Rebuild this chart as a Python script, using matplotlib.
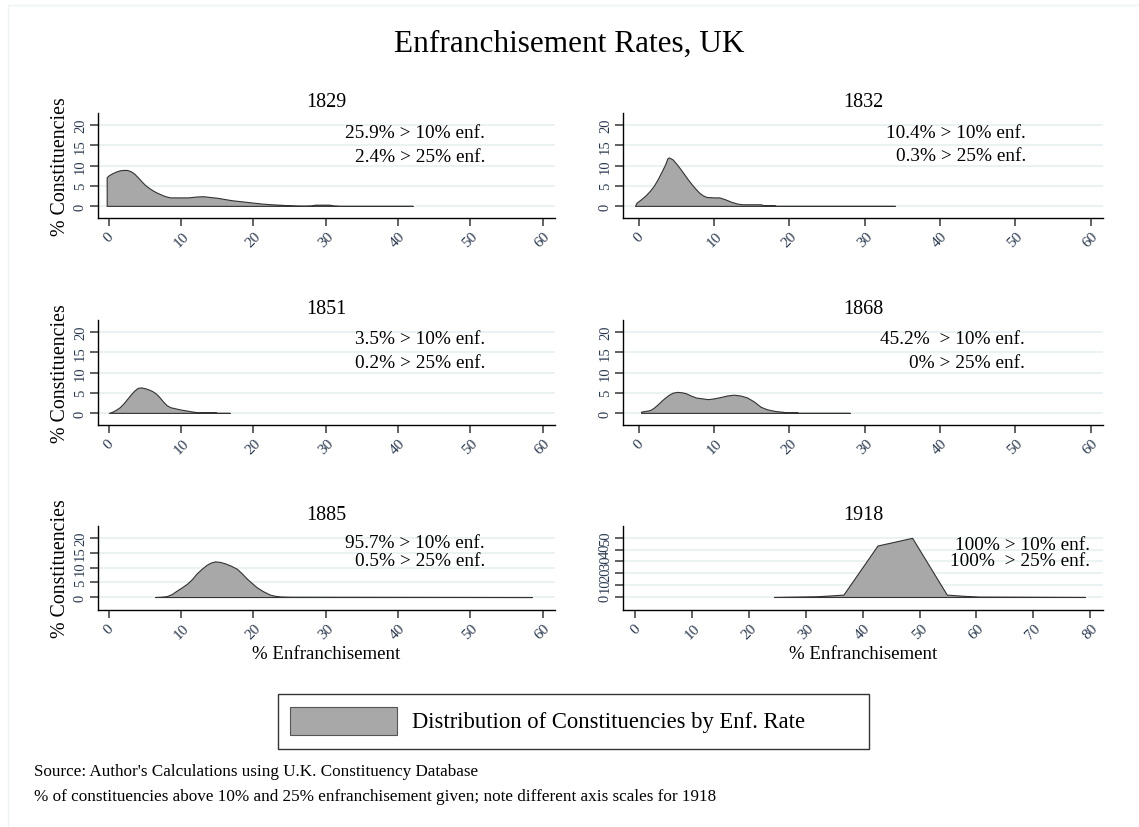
import numpy as np
import matplotlib.pyplot as plt
from matplotlib.patches import Rectangle

plt.rcParams['font.family'] = ['Liberation Serif', 'DejaVu Serif']

# density curves (x = % enfranchisement, y = % constituencies)
x_1829 = [-0.3, -0.3, 0.0, 0.5, 1.0, 1.5, 2.0, 2.5, 3.0, 3.5, 4.0, 4.5, 5.0, 5.5, 6.0, 6.5, 7.0, 7.5, 8.0, 8.5,
          9.0, 10.0, 11.0, 12.0, 13.0, 14.0, 15.0, 16.0, 17.0, 18.0, 19.0, 20.0, 21.0, 22.0, 23.0, 24.0, 25.0,
          26.0, 27.0, 28.0, 28.5, 30.5, 31.0, 32.0, 42.0]
y_1829 = [0.0, 7.1, 7.6, 8.1, 8.5, 8.8, 8.9, 8.9, 8.6, 8.0, 7.1, 6.1, 5.2, 4.5, 3.9, 3.4, 3.0, 2.6, 2.3, 2.1,
          2.1, 2.1, 2.1, 2.3, 2.4, 2.2, 2.0, 1.7, 1.4, 1.2, 1.0, 0.8, 0.6, 0.45, 0.35, 0.25, 0.15,
          0.08, 0.05, 0.1, 0.3, 0.3, 0.1, 0.0, 0.0]
x_1832 = [-0.5, -0.3, 0.2, 0.9, 1.5, 2.0, 2.5, 3.0, 3.5, 3.8, 4.0, 4.5, 5.0, 5.5, 6.0, 6.5, 7.0, 7.5, 8.0,
          8.5, 9.0, 10.0, 10.7, 11.5, 12.3, 13.0, 13.7, 16.2, 16.5, 18.0, 18.2, 34.0]
y_1832 = [0.0, 0.8, 1.5, 2.6, 3.8, 5.0, 6.6, 8.4, 10.3, 11.8, 12.0, 11.5, 10.4, 9.2, 7.9, 6.6, 5.4, 4.3, 3.3,
          2.6, 2.2, 2.1, 2.1, 1.6, 1.0, 0.6, 0.4, 0.4, 0.2, 0.2, 0.0, 0.0]
x_1851 = [0.0, 0.5, 1.0, 1.5, 2.0, 2.5, 3.0, 3.5, 4.0, 4.5, 5.0, 5.5, 6.0, 6.5, 7.0, 7.5, 8.0, 8.5, 9.0,
          9.5, 10.0, 10.7, 11.5, 12.1, 14.7, 15.0, 16.7]
y_1851 = [0.0, 0.3, 0.8, 1.4, 2.3, 3.4, 4.5, 5.5, 6.2, 6.3, 6.1, 5.8, 5.4, 4.8, 3.9, 2.8, 1.9, 1.4, 1.2,
          1.0, 0.8, 0.6, 0.35, 0.2, 0.2, 0.0, 0.0]
x_1868 = [0.3, 0.3, 1.5, 2.0, 2.5, 3.0, 3.5, 4.0, 4.5, 5.1, 5.7, 6.2, 6.9, 7.6, 8.4, 9.2, 10.0, 10.8, 11.7,
          12.6, 13.5, 14.4, 15.3, 16.2, 17.0, 18.0, 19.4, 21.0, 21.2, 28.0]
y_1868 = [0.0, 0.3, 0.7, 1.3, 2.1, 3.0, 3.8, 4.5, 5.0, 5.2, 5.1, 4.9, 4.3, 3.8, 3.6, 3.4, 3.6, 3.9, 4.3,
          4.5, 4.3, 3.8, 2.8, 1.5, 0.9, 0.5, 0.2, 0.2, 0.0, 0.0]
x_1885 = [6.4, 7.2, 8.0, 8.7, 9.4, 10.1, 10.8, 11.5, 12.1, 12.8, 13.5, 14.1, 14.7, 15.4, 16.1, 16.9, 17.7,
          18.4, 19.1, 19.8, 20.4, 21.3, 22.3, 23.0, 23.7, 25.0, 58.5]
y_1885 = [0.0, 0.1, 0.3, 1.0, 2.2, 3.3, 4.5, 6.1, 7.9, 9.5, 10.9, 11.7, 12.1, 11.9, 11.4, 10.6, 9.6,
          8.0, 6.2, 4.7, 3.4, 2.0, 0.8, 0.4, 0.2, 0.1, 0.0]
x_1918 = [24.4, 32.0, 36.6, 42.6, 48.7, 54.8, 58.4, 60.6, 79.1]
y_1918 = [0.0, 0.6, 2.0, 43.5, 50.0, 2.0, 0.8, 0.3, 0.0]

years = ["1829", "1832", "1851", "1868", "1885", "1918"]
above_10 = ["25.9% > 10% enf.", "10.4% > 10% enf.", "3.5% > 10% enf.",
            "45.2%  > 10% enf.", "95.7% > 10% enf.", "100% > 10% enf."]
above_25 = ["2.4% > 25% enf.", "0.3% > 25% enf.", "0.2% > 25% enf.",
            "0% > 25% enf.", "0.5% > 25% enf.", "100%  > 25% enf."]
curves = [(x_1829, y_1829), (x_1832, y_1832), (x_1851, y_1851),
          (x_1868, y_1868), (x_1885, y_1885), (x_1918, y_1918)]

W, H = 1139, 828
fig = plt.figure(figsize=(W / 100, H / 100), dpi=100)

# panel boxes in pixels: x0, x1, y0 (top), y1 (bottom)
boxes = [(98, 555, 114, 219), (623, 1103, 114, 219),
         (98, 555, 321, 426), (623, 1103, 321, 426),
         (98, 555, 527, 611), (623, 1103, 527, 611)]
xlims = [(-1.5, 61.7), (-2.1, 61.65), (-1.5, 61.7), (-2.1, 61.65), (-1.5, 61.7), (-2.2, 82.3)]
ylims = [(-3, 23), (-3, 23), (-3, 23), (-3, 23), (-4.4, 24.1), (-11, 60)]
# text anchor (right edge px, first line px, second line px)
notes_pos = [(485, 134, 158), (1026, 134, 157), (485, 340, 364),
             (1025, 340, 364), (485, 544, 561), (1090, 546, 562)]

tick_col = '#2b3a4f'
grid_col = '#e8f0f2'

for i in range(6):
    x0, x1, y0, y1 = boxes[i]
    ax = fig.add_axes([x0 / W, 1 - y1 / H, (x1 - x0) / W, (y1 - y0) / H])
    xs, ys = curves[i]
    ax.fill_between(xs, ys, 0, facecolor='#a8a8a8', edgecolor='#333333', linewidth=0.8, zorder=3)
    ax.set_xlim(*xlims[i])
    ax.set_ylim(*ylims[i])
    if i == 5:
        ax.set_xticks(np.arange(0, 81, 10))
        ax.set_yticks(np.arange(0, 51, 10))
    else:
        ax.set_xticks(np.arange(0, 61, 10))
        ax.set_yticks(np.arange(0, 21, 5))
    ax.yaxis.grid(True, color=grid_col, linewidth=1.2, zorder=0)
    ax.set_axisbelow(True)
    for s in ['top', 'right']:
        ax.spines[s].set_visible(False)
    for s in ['left', 'bottom']:
        ax.spines[s].set_linewidth(1.0)
    ax.tick_params(axis='x', labelrotation=45, labelsize=11, colors='#555555', labelcolor=tick_col,
                   length=6, width=1.3, pad=2)
    ax.tick_params(axis='y', labelrotation=90, labelsize=10.5, colors='#555555', labelcolor=tick_col,
                   length=6, width=1.3, pad=2)
    for lab in ax.get_yticklabels():
        lab.set_verticalalignment('center')
    ax.set_title(years[i], fontsize=14.5, pad=5)
    if i % 2 == 0:
        ax.set_ylabel("% Constituencies", fontsize=14.3, labelpad=3)
    if i >= 4:
        ax.set_xlabel("% Enfranchisement", fontsize=13.6, labelpad=3)
    rx, l1, l2 = notes_pos[i]
    fig.text(rx / W, 1 - l1 / H, above_10[i], ha='right', va='center', fontsize=13.9)
    fig.text(rx / W, 1 - l2 / H, above_25[i], ha='right', va='center', fontsize=13.9)

fig.suptitle("Enfranchisement Rates, UK", fontsize=22.5, y=1 - 44 / H, va='center')

# legend box
fig.patches.append(Rectangle((278 / W, 1 - 750 / H), (869 - 278) / W, (750 - 695) / H,
                             transform=fig.transFigure, facecolor='white', edgecolor='#333333',
                             linewidth=1.0))
fig.patches.append(Rectangle((290 / W, 1 - 736 / H), (397 - 290) / W, (736 - 708) / H,
                             transform=fig.transFigure, facecolor='#a8a8a8', edgecolor='#555555',
                             linewidth=0.8))
fig.text(412 / W, 1 - 723 / H, "Distribution of Constituencies by Enf. Rate",
         ha='left', va='center', fontsize=16.3)

fig.text(34 / W, 1 - 772 / H, "Source: Author's Calculations using U.K. Constituency Database",
         ha='left', va='center', fontsize=12.3)
fig.text(34 / W, 1 - 797 / H,
         "% of constituencies above 10% and 25% enfranchisement given; note different axis scales for 1918",
         ha='left', va='center', fontsize=12.3)

# faint outer frame
fig.patches.append(Rectangle((8 / W, -0.1), 1.2, 1 - 6 / H + 0.1, transform=fig.transFigure,
                             facecolor='none', edgecolor='#eef3f3', linewidth=1.0))

fig.savefig("out.png", dpi=100)
